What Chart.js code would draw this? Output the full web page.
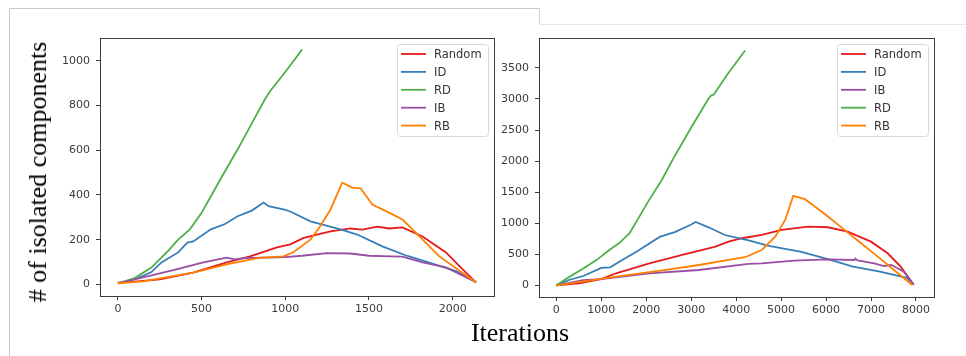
<!DOCTYPE html>
<html>
<head>
<meta charset="utf-8">
<script src="https://cdn.jsdelivr.net/npm/chart.js@4.4.1/dist/chart.umd.min.js"></script>
<style>
  html, body { margin: 0; padding: 0; background: #fff; }
  body { width: 966px; height: 356px; position: relative; overflow: hidden; }
  .frame-left { position: absolute; left: 9px; top: 8px; width: 530px; height: 360px; border-left: 1px solid #c9c9c9; border-top: 1px solid #c9c9c9; }
  .frame-step { position: absolute; left: 539px; top: 8px; width: 1px; height: 16px; background: #d4d4d4; }
  .frame-right { position: absolute; left: 539px; top: 24px; width: 427px; height: 1px; background: #e6e6e6; }
  .box { position: absolute; }
  .ytitle { position: absolute; left: 38px; top: 172px; transform: translate(-50%, -50%) rotate(-90deg); white-space: nowrap;
            font-family: "Liberation Serif", "DejaVu Serif", serif; font-size: 26px; color: #000; line-height: 1; }
  .xtitle { position: absolute; left: 520px; top: 320px; transform: translateX(-50%); white-space: nowrap;
            font-family: "Liberation Serif", "DejaVu Serif", serif; font-size: 26px; color: #000; line-height: 1; }
</style>
</head>
<body>
<div class="frame-left"></div>
<div class="frame-step"></div>
<div class="frame-right"></div>
<div class="box" style="left:50px; top:30px; width:450px; height:290px;"><canvas id="leftChart"></canvas></div>
<div class="box" style="left:490px; top:30px; width:450px; height:290px;"><canvas id="rightChart"></canvas></div>
<div class="ytitle"># of isolated components</div>
<div class="xtitle">Iterations</div>
<script>
// ---- left panel data ----
const leftXTicks = [0, 500, 1000, 1500, 2000];
const leftYTicks = [0, 200, 400, 600, 800, 1000];

const leftRandomX = [0, 100, 250, 450, 650, 790, 950, 1030, 1110, 1270, 1390, 1460, 1550, 1620, 1700, 1820, 1960, 2060, 2140];
const leftRandomY = [8, 12, 22, 53, 98, 125, 165, 179, 208, 237, 250, 245, 258, 250, 255, 214, 143, 67, 8];

const leftIdX = [0, 100, 200, 260, 360, 415, 450, 555, 640, 715, 800, 870, 900, 990, 1030, 1150, 1330, 1430, 1580, 1730, 1860, 2020, 2140];
const leftIdY = [5, 22, 55, 98, 143, 187, 192, 246, 270, 305, 330, 366, 350, 335, 326, 282, 246, 223, 170, 127, 97, 59, 10];

const leftRdX = [0, 100, 200, 300, 360, 430, 500, 560, 620, 715, 800, 880, 910, 1000, 1100];
const leftRdY = [5, 28, 75, 150, 200, 246, 320, 400, 480, 603, 720, 830, 865, 950, 1050];

const leftIbX = [0, 150, 350, 510, 650, 700, 760, 900, 1000, 1100, 1250, 1390, 1500, 1630, 1700, 1820, 1960, 2140];
const leftIbY = [5, 31, 67, 98, 120, 112, 118, 120, 122, 128, 140, 138, 128, 125, 124, 98, 76, 10];

const leftRbX = [0, 150, 450, 650, 850, 990, 1050, 1150, 1200, 1270, 1340, 1400, 1450, 1520, 1620, 1700, 1760, 1920, 2140];
const leftRbY = [5, 13, 53, 89, 120, 125, 145, 200, 250, 335, 455, 433, 430, 357, 321, 290, 246, 125, 8];

// ---- right panel data ----
const rightXTicks = [0, 1000, 2000, 3000, 4000, 5000, 6000, 7000, 8000];
const rightYTicks = [0, 500, 1000, 1500, 2000, 2500, 3000, 3500];

const rightRandomX = [0, 500, 1000, 1330, 2070, 2800, 3540, 3830, 4130, 4570, 5010, 5600, 6040, 6480, 7000, 7370, 7660, 7950];
const rightRandomY = [0, 30, 100, 194, 355, 489, 623, 703, 758, 811, 892, 946, 935, 865, 703, 516, 300, 10];

const rightIdX = [0, 300, 600, 1000, 1200, 1400, 1800, 2300, 2650, 3000, 3100, 3400, 3750, 4300, 4700, 5000, 5450, 6000, 6600, 7200, 7800, 7950];
const rightIdY = [0, 90, 150, 280, 290, 380, 550, 780, 860, 980, 1020, 930, 810, 720, 640, 600, 540, 430, 300, 220, 120, 10];

const rightIbX = [0, 600, 1000, 2070, 3170, 4270, 4570, 5300, 6040, 6630, 6650, 6700, 7070, 7290, 7450, 7730, 7950];
const rightIbY = [0, 85, 100, 194, 247, 344, 355, 397, 419, 408, 430, 400, 355, 311, 330, 219, 10];

const rightRdX = [0, 300, 600, 900, 1180, 1400, 1630, 1850, 2070, 2350, 2600, 3000, 3380, 3450, 3500, 3800, 4200];
const rightRdY = [0, 140, 270, 410, 570, 680, 840, 1110, 1380, 1700, 2040, 2540, 3000, 3060, 3070, 3390, 3780];

const rightRbX = [0, 1330, 2440, 3170, 3830, 4200, 4570, 4870, 5090, 5270, 5530, 5750, 6040, 6410, 6780, 7150, 7510, 7920];
const rightRbY = [0, 140, 247, 327, 408, 452, 569, 784, 1053, 1440, 1387, 1268, 1107, 892, 677, 462, 247, 5];

const colors = {
    Random: '#e41a1c',
    ID: '#377eb8',
    RD: '#4daf4a',
    IB: '#984ea3',
    RB: '#ff7f00'
};

function pts(xs, ys) {
    return xs.map((x, i) => ({ x: x, y: ys[i] }));
}

function makeSets(list) {
    // matplotlib draws later lines on top, so give earlier ones a higher order
    return list.map((s, i) => ({
        label: s[0],
        data: pts(s[1], s[2]),
        borderColor: colors[s[0]],
        borderWidth: 1.8,
        pointRadius: 0,
        tension: 0,
        fill: false,
        order: list.length - i
    }));
}

// box around the plot + legend in the upper right corner
const boxLegend = {
    id: 'boxLegend',
    afterDraw(chart) {
        const ctx = chart.ctx;
        const a = chart.chartArea;
        ctx.save();
        ctx.strokeStyle = '#3c3c3c';
        ctx.lineWidth = 1;
        ctx.strokeRect(Math.round(a.left) + 0.5, Math.round(a.top) + 0.5, Math.round(a.right - a.left), Math.round(a.bottom - a.top));

        const w = 91, h = 92;
        const x0 = a.right - 6 - w, y0 = a.top + 6;
        ctx.fillStyle = 'rgba(255,255,255,0.85)';
        ctx.strokeStyle = '#d8d8d8';
        ctx.beginPath();
        ctx.roundRect(x0 + 0.5, y0 + 0.5, w, h, 3);
        ctx.fill();
        ctx.stroke();

        ctx.font = '11.5px "DejaVu Sans"';
        ctx.textBaseline = 'middle';
        ctx.fillStyle = '#333';
        chart.data.datasets.forEach((ds, i) => {
            const y = y0 + 10 + i * 17.9;
            ctx.strokeStyle = ds.borderColor;
            ctx.lineWidth = 1.8;
            ctx.beginPath();
            ctx.moveTo(x0 + 4, y);
            ctx.lineTo(x0 + 29, y);
            ctx.stroke();
            ctx.fillText(ds.label, x0 + 37, y + 1);
        });
        ctx.restore();
    }
};

function makeChart(id, sets, xr, yr, xTicks, yTicks, yWidth, xHeight) {
    const tickFont = { family: 'DejaVu Sans', size: 11 };
    return new Chart(document.getElementById(id), {
        type: 'line',
        data: { datasets: sets },
        options: {
            responsive: true,
            maintainAspectRatio: false,
            animation: false,
            layout: { padding: { left: 0, top: 8, right: 6, bottom: 0 } },
            plugins: {
                legend: { display: false },
                tooltip: { enabled: false }
            },
            scales: {
                x: {
                    type: 'linear',
                    min: xr[0],
                    max: xr[1],
                    afterBuildTicks: s => { s.ticks = xTicks.map(v => ({ value: v })); },
                    afterFit: s => { s.height = xHeight; s.paddingLeft = 0; s.paddingRight = 0; },
                    grid: { drawOnChartArea: false, drawTicks: true, tickLength: 4, color: '#3c3c3c' },
                    border: { color: '#3c3c3c' },
                    ticks: { font: tickFont, color: '#3a3a3a', padding: 3, maxRotation: 0, callback: v => String(v) }
                },
                y: {
                    type: 'linear',
                    min: yr[0],
                    max: yr[1],
                    afterBuildTicks: s => { s.ticks = yTicks.map(v => ({ value: v })); },
                    afterFit: s => { s.width = yWidth; s.paddingTop = 0; s.paddingBottom = 0; },
                    grid: { drawOnChartArea: false, drawTicks: true, tickLength: 4, color: '#3c3c3c' },
                    border: { color: '#3c3c3c' },
                    ticks: { font: tickFont, color: '#3a3a3a', padding: 6, callback: v => String(v) }
                }
            }
        },
        plugins: [boxLegend]
    });
}

document.addEventListener('DOMContentLoaded', function () {
    makeChart('leftChart', makeSets([
        ['Random', leftRandomX, leftRandomY],
        ['ID', leftIdX, leftIdY],
        ['RD', leftRdX, leftRdY],
        ['IB', leftIbX, leftIbY],
        ['RB', leftRbX, leftRbY]
    ]), [-107, 2247], [-52, 1102], leftXTicks, leftYTicks, 50, 24);

    makeChart('rightChart', makeSets([
        ['Random', rightRandomX, rightRandomY],
        ['ID', rightIdX, rightIdY],
        ['IB', rightIbX, rightIbY],
        ['RD', rightRdX, rightRdY],
        ['RB', rightRbX, rightRbY]
    ]), [-385, 8401], [-188, 3982], rightXTicks, rightYTicks, 49, 23);
});
</script>
</body>
</html>
